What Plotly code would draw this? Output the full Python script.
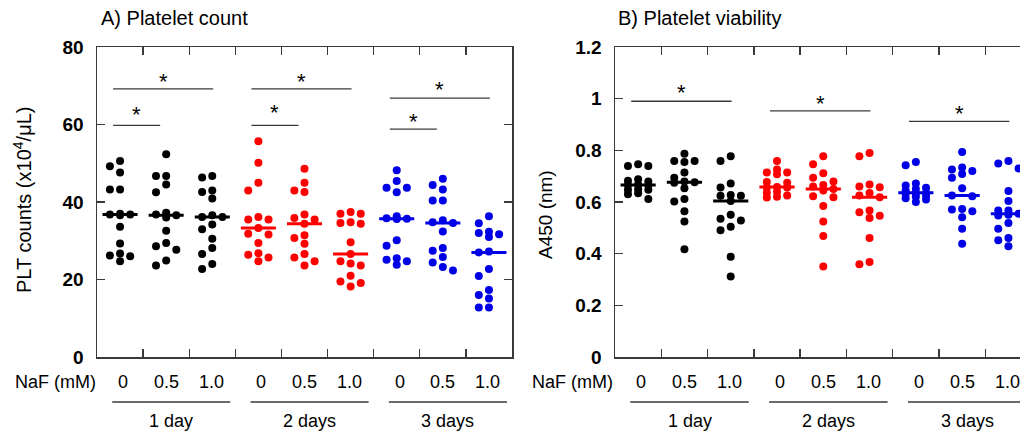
import numpy as np
import plotly.graph_objects as go

# ---------------- data ----------------
naf_labels = ["0", "0.5", "1.0"]
day_labels = ["1 day", "2 days", "3 days"]
day_colors = ["#000000", "#ff0000", "#0000e6"]

# Panel A: platelet counts (x10^4/uL)
plt_1d_0 = [50.6, 49.2, 47.6, 43.2, 43.2, 37.0, 36.8, 36.8, 36.6, 33.6, 29.3, 26.7, 26.2, 26.0, 24.7]
plt_1d_05 = [52.3, 46.7, 46.7, 44.5, 42.5, 37.2, 36.8, 36.6, 36.0, 32.6, 29.4, 28.6, 27.7, 24.9, 23.6]
plt_1d_10 = [46.7, 46.3, 43.0, 42.6, 40.9, 36.6, 36.1, 36.1, 34.2, 33.0, 30.5, 28.1, 26.6, 24.0, 22.7]
plt_2d_0 = [55.7, 50.1, 45.0, 43.0, 36.1, 35.5, 35.5, 33.3, 31.8, 31.6, 29.4, 26.8, 26.4, 25.7, 24.7]
plt_2d_05 = [48.6, 45.0, 43.0, 42.6, 36.8, 35.9, 35.5, 34.4, 31.4, 30.7, 29.2, 26.6, 25.7, 24.7, 23.6]
plt_2d_10 = [37.4, 37.0, 37.0, 34.8, 34.6, 34.4, 29.6, 26.6, 24.7, 24.1, 23.6, 21.0, 19.5, 19.1, 18.2]
plt_3d_0 = [48.2, 45.4, 43.7, 43.7, 42.5, 36.3, 35.8, 35.7, 35.6, 30.1, 28.7, 25.5, 25.1, 24.7, 23.8]
plt_3d_05 = [46.0, 44.4, 43.2, 40.4, 40.4, 35.3, 34.8, 34.6, 32.4, 28.1, 27.4, 25.8, 24.4, 23.2, 22.3]
plt_3d_10 = [36.3, 34.5, 32.3, 32.0, 31.7, 31.0, 27.2, 27.0, 22.7, 20.9, 17.3, 16.0, 15.1, 12.8, 12.8]

# Panel B: platelet viability (A450)
via_1d_0 = [0.746, 0.739, 0.739, 0.688, 0.682, 0.679, 0.668, 0.666, 0.666, 0.649, 0.647, 0.647, 0.634, 0.630, 0.612]
via_1d_05 = [0.787, 0.759, 0.759, 0.755, 0.714, 0.694, 0.679, 0.676, 0.675, 0.653, 0.612, 0.602, 0.564, 0.525, 0.417]
via_1d_10 = [0.777, 0.759, 0.672, 0.656, 0.627, 0.624, 0.624, 0.604, 0.551, 0.535, 0.528, 0.504, 0.491, 0.388, 0.312]
via_2d_0 = [0.759, 0.726, 0.714, 0.714, 0.707, 0.677, 0.675, 0.658, 0.656, 0.656, 0.640, 0.636, 0.625, 0.620, 0.617]
via_2d_05 = [0.777, 0.746, 0.711, 0.694, 0.679, 0.666, 0.660, 0.650, 0.645, 0.622, 0.618, 0.585, 0.525, 0.468, 0.350]
via_2d_10 = [0.790, 0.777, 0.668, 0.660, 0.657, 0.635, 0.625, 0.618, 0.567, 0.560, 0.547, 0.538, 0.461, 0.368, 0.359]
via_3d_0 = [0.755, 0.742, 0.672, 0.664, 0.655, 0.650, 0.645, 0.636, 0.634, 0.632, 0.625, 0.620, 0.615, 0.610, 0.600]
via_3d_05 = [0.794, 0.734, 0.726, 0.720, 0.708, 0.694, 0.653, 0.625, 0.622, 0.573, 0.571, 0.564, 0.541, 0.496, 0.438]
via_3d_10 = [0.759, 0.749, 0.730, 0.643, 0.604, 0.567, 0.567, 0.555, 0.551, 0.548, 0.519, 0.496, 0.461, 0.452, 0.429]

plt_groups = [plt_1d_0, plt_1d_05, plt_1d_10, plt_2d_0, plt_2d_05, plt_2d_10, plt_3d_0, plt_3d_05, plt_3d_10]
via_groups = [via_1d_0, via_1d_05, via_1d_10, via_2d_0, via_2d_05, via_2d_10, via_3d_0, via_3d_05, via_3d_10]

# significance brackets: (first col, last col)
plt_brackets = [(1, 2), (1, 3), (4, 5), (4, 6), (7, 8), (7, 9)]
via_brackets = [(1, 3), (4, 6), (7, 9)]

# ---------------- layout geometry ----------------
W, H = 1020, 438
FONT = "Liberation Sans, Arial, sans-serif"
AX = "#3a3a3a"


def px_x(p):
    return p / W


def px_y(p):
    return (H - p) / H


ydom = [px_y(357), px_y(47)]
xdomA = [px_x(97), px_x(512)]
xdomB = [px_x(615), 1.0]

LANE = 0.22


def beeswarm(vals, mind):
    order = sorted(range(len(vals)), key=lambda i: -vals[i])
    slots = {}
    lanes = {-1: [], 0: [], 1: []}
    for i in order:
        v = vals[i]
        best, bestd = None, -1
        chosen = None
        for s in (0, -1, 1):
            d = min([abs(v - u) for u in lanes[s]] or [1e9])
            if d >= mind:
                chosen = s
                break
            if d > bestd:
                best, bestd = s, d
        if chosen is None:
            chosen = best
        lanes[chosen].append(v)
        slots[i] = chosen
    return [slots[i] for i in range(len(vals))]


fig = go.Figure()


def add_panel(groups, xa, ya, mind):
    for k, vals in enumerate(groups):
        c = k + 1
        col = day_colors[k // 3]
        sl = beeswarm(vals, mind)
        xs = [c + LANE * s for s in sl]
        fig.add_trace(go.Scatter(x=xs, y=vals, mode="markers", xaxis=xa, yaxis=ya,
                                 marker=dict(color=col, size=8, line=dict(width=0)),
                                 hoverinfo="skip"))
        m = float(np.median(vals))
        fig.add_trace(go.Scatter(x=[c - 0.38, c + 0.38], y=[m, m], mode="lines", xaxis=xa, yaxis=ya,
                                 line=dict(color=col, width=3), hoverinfo="skip"))


add_panel(plt_groups, "x", "y", 2.1)
add_panel(via_groups, "x2", "y2", 0.032)

shapes = []
annotations = []


def text(xref, yref, x, y, s, size, xanchor="center", angle=0, xshift=0):
    annotations.append(dict(xref=xref, yref=yref, x=x, y=y, text=s, showarrow=False,
                            xanchor=xanchor, yanchor="middle", textangle=angle, xshift=xshift,
                            font=dict(family=FONT, size=size, color="#000")))


def bracket(xref, yref, b, y, star_y):
    a, z = b
    x0 = a - 0.15
    x1 = z + 0.02 if z - a > 1 else z - 0.13
    shapes.append(dict(type="line", xref=xref, yref=yref, x0=x0, x1=x1, y0=y, y1=y,
                       line=dict(color=AX, width=1.3)))
    annotations.append(dict(xref=xref, yref=yref, x=(x0 + x1) / 2, y=star_y, text="*",
                            showarrow=False, xanchor="center", yanchor="middle",
                            font=dict(family=FONT, size=22, color="#000"), yshift=-5))


# panel A brackets (line y, star y)
plt_br_y = [59.8, 69.2, 59.8, 69.2, 58.8, 66.8]
plt_star_y = [64.0, 72.5, 64.5, 72.3, 62.0, 70.2]
for b, ly, sy in zip(plt_brackets, plt_br_y, plt_star_y):
    bracket("x", "y", b, ly, sy)

via_br_y = [0.99, 0.953, 0.912]
via_star_y = [1.042, 1.0, 0.961]
for b, ly, sy in zip(via_brackets, via_br_y, via_star_y):
    bracket("x2", "y2", b, ly, sy)

# category labels and group underlines
for xref in ("x", "x2"):
    for k in range(9):
        text(xref, "paper", k + 1, px_y(382), naf_labels[k % 3], 18,
             xshift=3 if k % 3 == 0 else (-1 if k % 3 == 2 else 0))
    for g in range(3):
        x0 = 3 * g + 1 - 0.17
        x1 = 3 * g + 3 + 0.39
        shapes.append(dict(type="line", xref=xref, yref="paper", x0=x0, x1=x1,
                           y0=px_y(402), y1=px_y(402), line=dict(color=AX, width=1.5)))
        text(xref, "paper", (x0 + x1) / 2, px_y(421), day_labels[g], 18)

for xp in (55, 572):
    text("paper", "paper", px_x(xp), px_y(382), "NaF (mM)", 18)

# panel titles
text("paper", "paper", px_x(99), px_y(18), "A) Platelet count", 20, xanchor="left")
text("paper", "paper", px_x(616), px_y(18), "B) Platelet viability", 20, xanchor="left")

# y titles
text("paper", "paper", px_x(22), px_y(200), "PLT counts (x10<sup>4</sup>/μL)", 20, angle=-90)
text("paper", "paper", px_x(545), px_y(215), "A450 (nm)", 19, angle=-90)

common_x = dict(tickvals=[1.5 + i for i in range(8)], ticks="inside", ticklen=8, tickwidth=1.3,
                tickcolor=AX, showticklabels=False, showline=True, linecolor=AX, linewidth=1.5,
                showgrid=False, zeroline=False, fixedrange=True, automargin=False)
common_y = dict(ticks="inside", ticklen=8, tickwidth=1.3, tickcolor=AX, showline=True, linecolor=AX,
                linewidth=1.5, showgrid=False, zeroline=False, fixedrange=True, ticklabelstandoff=8,
                automargin=False,
                tickfont=dict(family=FONT, size=19, color="#000", weight="bold"))

fig.update_layout(
    template="none",
    width=W, height=H, margin=dict(l=0, r=0, t=0, b=0, pad=0), autosize=False,
    paper_bgcolor="white", plot_bgcolor="white", showlegend=False,
    xaxis=dict(domain=xdomA, range=[0.5, 9.5], anchor="y", mirror="ticks", **common_x),
    yaxis=dict(domain=ydom, range=[0, 80], anchor="x", tickvals=[0, 20, 40, 60, 80], mirror="ticks", **common_y),
    xaxis2=dict(domain=xdomB, range=[0.5, 9.25], anchor="y2", mirror="ticks", **common_x),
    yaxis2=dict(domain=ydom, range=[0, 1.2], anchor="x2", tickvals=[0, 0.2, 0.4, 0.6, 0.8, 1.0, 1.2],
                ticktext=["0", "0.2", "0.4", "0.6", "0.8", "1", "1.2"], mirror=False, **common_y),
    shapes=shapes, annotations=annotations,
)

fig.write_html("out.html", config={"displayModeBar": False, "staticPlot": True},
               post_script="document.body.style.margin='0px';document.body.style.overflow='hidden';")
